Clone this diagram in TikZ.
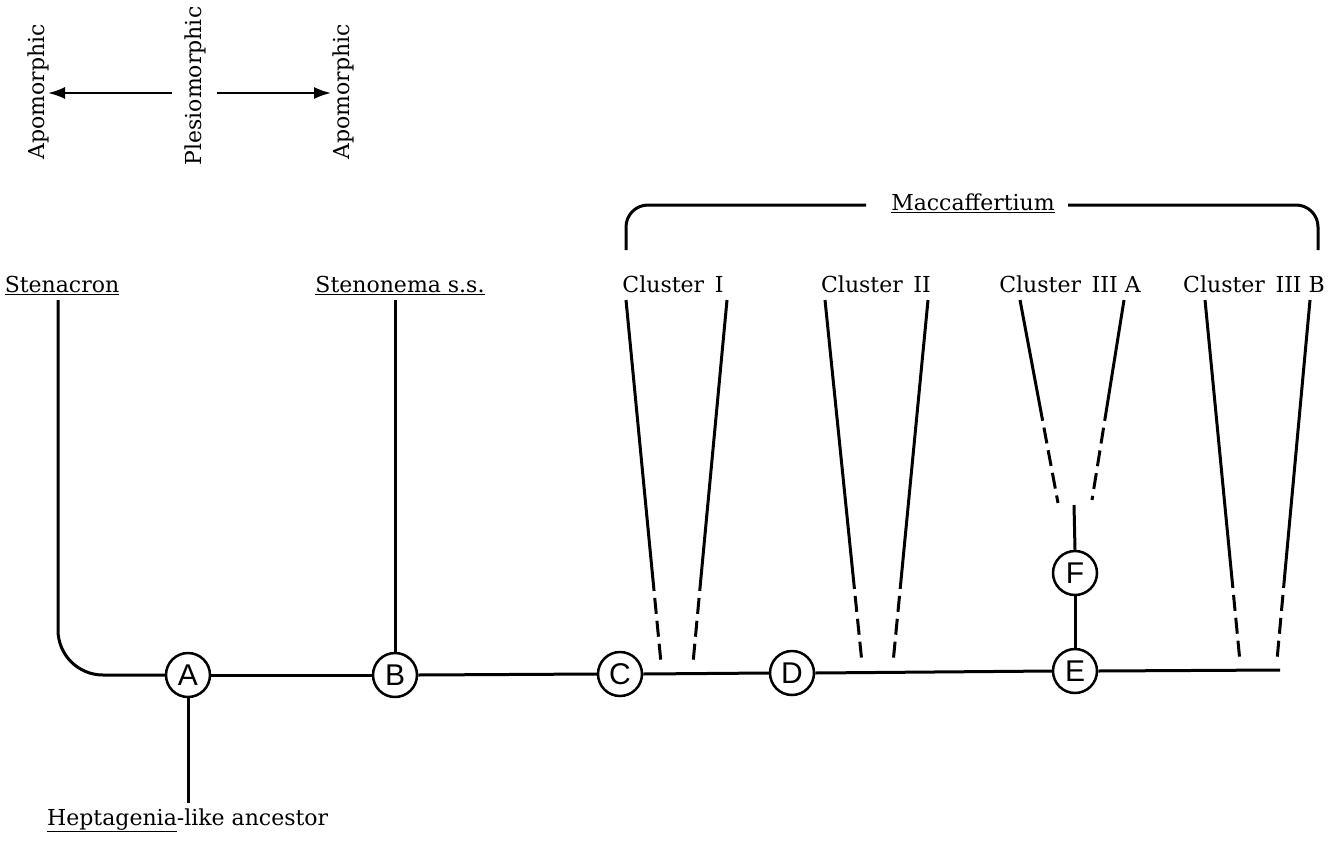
\documentclass[tikz,border=0pt]{standalone}
\usepackage{fontspec}
\setmainfont{DejaVu Serif}
\newfontfamily\circfont{Liberation Sans}
\usetikzlibrary{arrows.meta}
\begin{document}
\begin{tikzpicture}[x=1pt,y=-1pt,
  lbl/.style={font=\fontsize{22}{24}\selectfont, inner sep=0pt},
  circ/.style={circle, draw, line width=2.5pt, minimum size=44pt, inner sep=0pt, font=\circfont\fontsize{30}{30}\selectfont},
  br/.style={line width=3pt},
  dsh/.style={line width=3pt, dash pattern=on 16pt off 7pt},
  ar/.style={line width=2pt, -{Latex[length=17pt,width=12pt]}}]
\useasboundingbox (0,0) rectangle (1337,840);

% top legend
\node[lbl, rotate=90] (apoL) at (38,92) {Apomorphic};
\node[lbl, rotate=90] (ples) at (195,86) {Plesiomorphic};
\node[lbl, rotate=90] (apoR) at (343,92) {Apomorphic};
\coordinate (aLs) at (172,93); \coordinate (aLe) at (48,93);
\coordinate (aRs) at (217,93); \coordinate (aRe) at (331,93);
\draw[ar] (aLs) -- (aLe);
\draw[ar] (aRs) -- (aRe);

% labels
\node[lbl, anchor=base] (sten) at (62,292) {\underline{Stenacron}};
\node[lbl, anchor=base] (stenon) at (400,292) {\underline{Stenonema s.s.}};
\node[lbl, anchor=base] (cl1) at (673,292) {Cluster\, I};
\node[lbl, anchor=base] (cl2) at (876,292) {Cluster\, II};
\node[lbl, anchor=base] (cl3a) at (1070,292) {Cluster\, III A};
\node[lbl, anchor=base] (cl3b) at (1254,292) {Cluster\, III B};
\node[lbl, anchor=base] (macc) at (973,210) {\underline{Maccaffertium}};
\node[lbl, anchor=base west] (hept) at (47,825) {\underline{Heptagenia}-like ancestor};

% circles
\node[circ] (A) at (188,675) {A};
\node[circ] (B) at (395,675) {B};
\node[circ] (C) at (620,674) {C};
\node[circ] (D) at (792,673) {D};
\node[circ] (E) at (1075,671) {E};
\node[circ] (F) at (1075,573) {F};

% coordinates
\coordinate (st) at (58,300);
\coordinate (bt) at (395,300);
\coordinate (ab) at (188,803);
\coordinate (end) at (1280,670);
\coordinate (ft) at (1074,505);

% main lines
\draw[br, rounded corners=45pt] (st) |- (A.west);
\draw[br] (A.east) -- (B.west);
\draw[br] (B.east) -- (C.west);
\draw[br] (C.east) -- (D.west);
\draw[br] (D.east) -- (E.west);
\draw[br] (E.east) -- (end);
\draw[br] (A.south) -- (ab);
\draw[br] (bt) -- (B.north);
\draw[br] (E.north) -- (F.south);
\draw[br] (F.north) -- (ft);

% cluster I
\coordinate (c1at) at (626,300); \coordinate (c1am) at (652.5,575); \coordinate (c1ab) at (661,663);
\coordinate (c1bt) at (727,300); \coordinate (c1bm) at (701.2,575); \coordinate (c1bb) at (693,663);
% cluster II
\coordinate (c2at) at (825,300); \coordinate (c2am) at (852.8,573); \coordinate (c2ab) at (862,663);
\coordinate (c2bt) at (928,300); \coordinate (c2bm) at (901.7,573); \coordinate (c2bb) at (893,663);
% cluster III A
\coordinate (c3at) at (1020,300); \coordinate (c3am) at (1039.7,405); \coordinate (c3ab) at (1058,503);
\coordinate (c3bt) at (1124,300); \coordinate (c3bm) at (1107.2,405); \coordinate (c3bb) at (1092,500);
% cluster III B
\coordinate (c4at) at (1205,300); \coordinate (c4am) at (1231.3,572); \coordinate (c4ab) at (1240,662);
\coordinate (c4bt) at (1310,300); \coordinate (c4bm) at (1285,572); \coordinate (c4bb) at (1277,660);

\foreach \c in {c1,c2,c3,c4}{
  \draw[br] (\c at) -- (\c am);
  \draw[dsh] (\c am) -- (\c ab);
  \draw[br] (\c bt) -- (\c bm);
  \draw[dsh] (\c bm) -- (\c bb);
}

% bracket
\coordinate (brl) at (626,250); \coordinate (brlt) at (866,205);
\coordinate (brrt) at (1068,205); \coordinate (brr) at (1318,250);
\draw[br, rounded corners=22pt] (brl) |- (brlt);
\draw[br, rounded corners=22pt] (brrt) -| (brr);
\end{tikzpicture}
\end{document}
